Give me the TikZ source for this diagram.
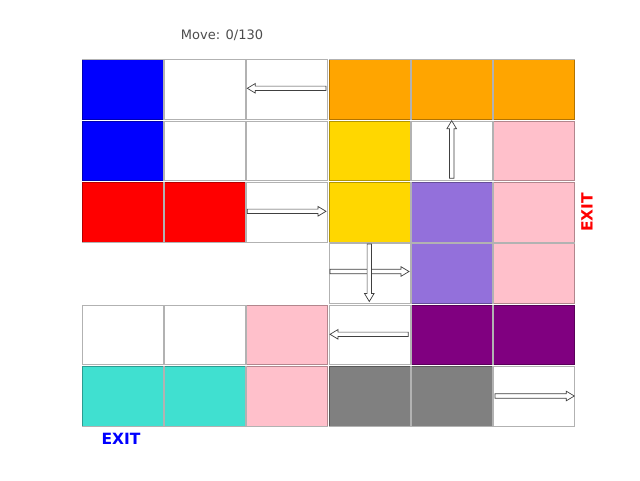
\documentclass[tikz,border=0pt]{standalone}
\usepackage{fontspec}
\newfontfamily\boardfont{DejaVu Sans}
\usetikzlibrary{positioning}
\definecolor{blockblue}{HTML}{0000FF}
\definecolor{blockorange}{HTML}{FFA500}
\definecolor{blockgold}{HTML}{FFD700}
\definecolor{blockpink}{HTML}{FFC0CB}
\definecolor{blockred}{HTML}{FF0000}
\definecolor{blocklilac}{HTML}{9370DB}
\definecolor{blockpurple}{HTML}{800080}
\definecolor{blockteal}{HTML}{40E0D0}
\definecolor{blockgray}{HTML}{808080}
% hollow slide arrow: tail x, tail y, angle, length
\newcommand{\slidearrow}[4]{%
  \draw[slide,shift={(#1,#2)},rotate=#3] (0,2.2) -- ({#4-8},2.2) -- ({#4-8},4.8) -- (#4,0)
    -- ({#4-8},-4.8) -- ({#4-8},-2.2) -- (0,-2.2) -- cycle;}

\begin{document}
\begin{tikzpicture}[x=1pt,y=-1pt,
    cellbox/.style={draw=black,draw opacity=0.3,line width=1pt,minimum width=80.8pt,minimum height=59.8pt,inner sep=0pt},
    slide/.style={draw=black!75,fill=white,line width=0.7pt},
    exitlabel/.style={font=\boardfont\bfseries\fontsize{15.5}{16}\selectfont,inner sep=0pt}]
  \useasboundingbox (0,0) rectangle (640,480);
  % board cells
  \foreach \r/\c/\col in {0/0/blockblue,0/1/white,0/2/white,0/3/blockorange,0/4/blockorange,0/5/blockorange,
      1/0/blockblue,1/1/white,1/2/white,1/3/blockgold,1/4/white,1/5/blockpink,
      2/0/blockred,2/1/blockred,2/2/white,2/3/blockgold,2/4/blocklilac,2/5/blockpink,
      3/3/white,3/4/blocklilac,3/5/blockpink,
      4/0/white,4/1/white,4/2/blockpink,4/3/white,4/4/blockpurple,4/5/blockpurple,
      5/0/blockteal,5/1/blockteal,5/2/blockpink,5/3/blockgray,5/4/blockgray,5/5/white}
    \node[cellbox,fill=\col] (c-\r-\c) at ({81.5+82.33*(\c+0.5)},{59+61.33*(\r+0.5)}) {};
  % arrows
  \slidearrow{326}{88.3}{180}{78.7}
  \slidearrow{451.7}{178.3}{90}{57.6}
  \slidearrow{247.3}{211.3}{0}{78.7}
  \slidearrow{330}{271.5}{0}{79}
  \slidearrow{369.3}{244}{270}{57.5}
  \fill[white] (367.5,269.7) rectangle (371.1,273.3);
  \slidearrow{408.3}{334.3}{180}{78.3}
  \slidearrow{495}{396}{0}{79.3}
  % labels
  \node[font=\boardfont\fontsize{13}{15}\selectfont,text=black!70,inner sep=0pt] (movecount) at (222,35) {Move: 0/130};
  \node[exitlabel,text=blockred,rotate=90] (exitright) at (587,212.5) {EXIT};
  \node[exitlabel,text=blockblue] (exitbottom) at (121,439) {EXIT};
\end{tikzpicture}
\end{document}
